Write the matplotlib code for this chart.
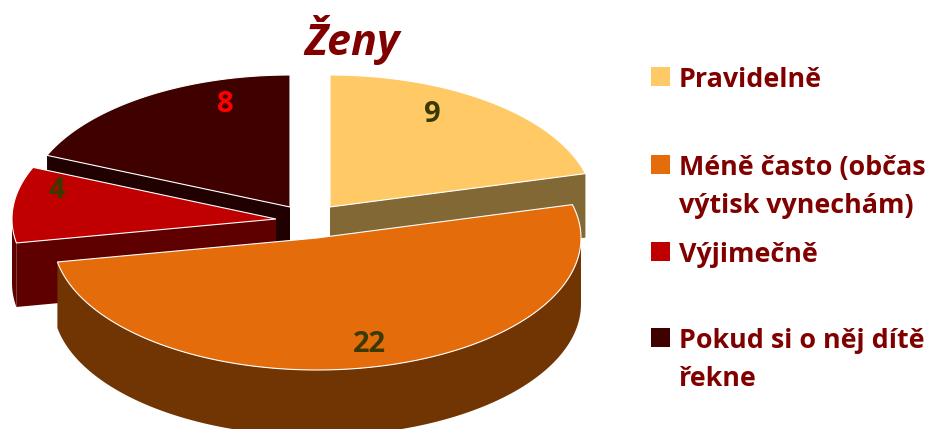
import numpy as np
import matplotlib.pyplot as plt
from matplotlib.patches import Polygon, Rectangle

labels = ["Pravidelně", "Méně často (občas\nvýtisk vynechám)", "Výjimečně", "Pokud si o něj dítě\nřekne"]
values = [9, 22, 4, 8]

top_colors = ["#FFCA66", "#E46C0A", "#C00000", "#3F0000"]
wall_colors = ["#826834", "#703503", "#5E0000", "#200000"]
value_colors = ["#3A3A00", "#3A3A00", "#3A3A00", "#FF0000"]

# pixel layout of the exploded slices
centers = [(330, 207), (317, 238), (276, 219), (290, 207)]
depths = [64, 66, 64, 64]
value_pos = [(432, 115), (369, 344), (57, 191), (225, 105)]
legend_y = [67, 155, 242, 328]
rx, ry = 264, 132

plt.rcParams['font.family'] = ['Open Sans', 'DejaVu Sans']

fig = plt.figure(figsize=(9.29, 4.29), dpi=100)
ax = fig.add_axes([0, 0, 1, 1])
ax.set_xlim(0, 929)
ax.set_ylim(429, 0)
ax.axis('off')

# slice angles, clockwise from 12 o'clock
edges = np.cumsum([0] + values) / sum(values) * 2 * np.pi


def rim(i, a0, a1):
    a = np.linspace(a0, a1, 120)
    cx, cy = centers[i]
    return np.column_stack([cx + rx * np.sin(a), cy - ry * np.cos(a)])


def radial_wall(i, a):
    cx, cy = centers[i]
    p = rim(i, a, a)[0]
    pts = [(cx, cy), tuple(p), (p[0], p[1] + depths[i]), (cx, cy + depths[i])]
    ax.add_patch(Polygon(pts, fc=wall_colors[i], ec='none'))


def outer_wall(i, a0, a1):
    r = rim(i, a0, a1)
    pts = np.vstack([r, (r + [0, depths[i]])[::-1]])
    ax.add_patch(Polygon(pts, fc=wall_colors[i], ec='none'))


def top(i):
    cx, cy = centers[i]
    pts = np.vstack([[(cx, cy)], rim(i, edges[i], edges[i + 1])])
    ax.add_patch(Polygon(pts, fc=top_colors[i], ec='white', lw=0.8))


# back to front
radial_wall(3, edges[3])
top(3)
radial_wall(0, edges[1])
top(0)
radial_wall(2, edges[2])
outer_wall(2, edges[2], 1.5 * np.pi)
top(2)
outer_wall(1, 0.5 * np.pi, edges[2])
top(1)

for v, pos, c in zip(values, value_pos, value_colors):
    ax.text(pos[0], pos[1], str(v), color=c, fontsize=21, fontweight='bold', ha='center', va='center')

ax.text(352, 55, "Ženy", color="#800000", fontsize=31, fontweight='bold', fontstyle='italic', ha='center', va='baseline')

for name, y, c in zip(labels, legend_y, top_colors):
    ax.add_patch(Rectangle((651, y), 19, 19, fc=c, ec='none'))
    for k, line in enumerate(name.split("\n")):
        ax.text(679, y + 20 + k * 38, line, color="#800000", fontsize=19.4, fontweight='bold', ha='left', va='baseline')

fig.savefig("out.png", dpi=100)
